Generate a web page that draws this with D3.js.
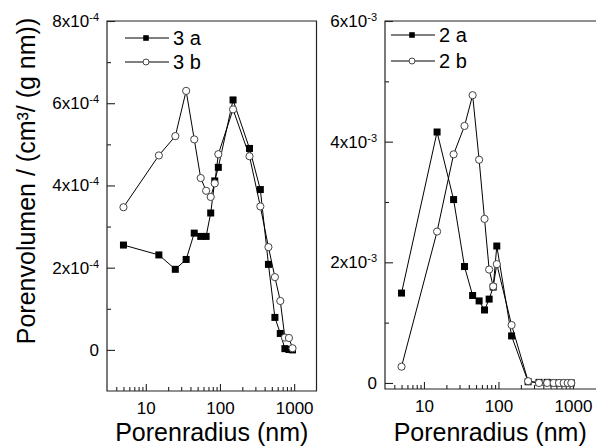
<!DOCTYPE html>
<html>
<head>
<meta charset="utf-8">
<script src="https://cdn.jsdelivr.net/npm/d3@7"></script>
<style>
  html, body { margin: 0; padding: 0; background: #fff; }
  svg { display: block; font-family: "Liberation Sans", Arial, sans-serif; }
</style>
</head>
<body>
<svg id="chart" width="596" height="446"></svg>
<script>
// Pore radius classes (nm), shared by all four series
const radius = [5, 15, 25, 35, 45, 55, 65, 75, 85, 95, 150, 250, 350, 450, 550, 650, 750, 850, 950];

// Sample 3: pore volume, cm³/(g nm)
const series3a = [2.55e-4, 2.31e-4, 1.96e-4, 2.20e-4, 2.84e-4, 2.76e-4, 2.76e-4, 3.33e-4, 4.11e-4, 4.44e-4,
                  6.08e-4, 4.90e-4, 3.90e-4, 2.08e-4, 0.79e-4, 0.40e-4, 0.03e-4, 0.01e-4, 0.00e-4];
const series3b = [3.47e-4, 4.73e-4, 5.20e-4, 6.30e-4, 5.12e-4, 4.18e-4, 3.87e-4, 3.72e-4, 4.05e-4, 4.76e-4,
                  5.85e-4, 4.71e-4, 3.49e-4, 2.50e-4, 1.77e-4, 1.19e-4, 0.30e-4, 0.29e-4, 0.04e-4];

// Sample 2: pore volume, cm³/(g nm)
const series2a = [1.49e-3, 4.16e-3, 3.04e-3, 1.93e-3, 1.45e-3, 1.36e-3, 1.21e-3, 1.39e-3, 1.59e-3, 2.27e-3,
                  0.78e-3, 0.02e-3, 0.01e-3, 0.01e-3, 0.00e-3, 0.00e-3, 0.00e-3, 0.00e-3, 0.00e-3];
const series2b = [0.27e-3, 2.51e-3, 3.79e-3, 4.26e-3, 4.77e-3, 3.70e-3, 2.72e-3, 1.88e-3, 1.60e-3, 1.97e-3,
                  0.96e-3, 0.03e-3, 0.00e-3, 0.00e-3, 0.00e-3, 0.00e-3, 0.00e-3, 0.00e-3, 0.00e-3];

// Axis ticks and labels
const xMajorTicks = [10, 100, 1000];
const xMinorTicks = [4, 5, 6, 7, 8, 9, 20, 30, 40, 50, 60, 70, 80, 90, 200, 300, 400, 500, 600, 700, 800, 900];
const yTicks3 = [0, 2e-4, 4e-4, 6e-4, 8e-4];
const yTickLabels3 = ["0", "2x10", "4x10", "6x10", "8x10"];
const yMinor3 = [1e-4, 3e-4, 5e-4, 7e-4];
const yTicks2 = [0, 2e-3, 4e-3, 6e-3];
const yTickLabels2 = ["0", "2x10", "4x10", "6x10"];
const yMinor2 = [1e-3, 3e-3, 5e-3];
const legend3 = ["3 a", "3 b"];
const legend2 = ["2 a", "2 b"];

const xTitle = "Porenradius (nm)";
const yTitle = "Porenvolumen / (cm³/ (g nm))";

const svg = d3.select("#chart");

function drawPanel(p) {
  const x = d3.scaleLog().domain([3, 2000]).range([p.left, p.right]);
  const y = d3.scaleLinear().domain(p.yDomain).range([p.bottom, p.top]);
  const g = svg.append("g");

  // frame
  const frame = p.closeRight
    ? `M${p.left},${p.top}H${p.right}V${p.bottom}H${p.left}Z`
    : `M596,${p.top}H${p.left}V${p.bottom}H596`;
  g.append("path").attr("d", frame).attr("fill", "none").attr("stroke", "#222").attr("stroke-width", 1.2);

  // x axis: major ticks with labels, minor ticks, all pointing inward
  const xa = g.append("g").attr("transform", `translate(0,${p.bottom})`)
    .call(d3.axisBottom(x).tickValues(xMajorTicks).tickFormat(d3.format("d"))
      .tickSizeInner(-7).tickSizeOuter(0).tickPadding(11));
  const xm = g.append("g").attr("transform", `translate(0,${p.bottom})`)
    .call(d3.axisBottom(x).tickValues(xMinorTicks).tickFormat("").tickSizeInner(-4).tickSizeOuter(0));

  // y axis
  const ya = g.append("g").attr("transform", `translate(${p.left},0)`)
    .call(d3.axisLeft(y).tickValues(p.yTicks).tickFormat((d, i) => p.yLabels[i])
      .tickSizeInner(-8).tickSizeOuter(0).tickPadding(8));
  const ym = g.append("g").attr("transform", `translate(${p.left},0)`)
    .call(d3.axisLeft(y).tickValues(p.yMinor).tickFormat("").tickSizeInner(-4).tickSizeOuter(0));

  [xa, xm, ya, ym].forEach(a => {
    a.select(".domain").remove();
    a.selectAll(".tick line").attr("stroke", "#222").attr("stroke-width", 1.1);
    a.selectAll("text").attr("fill", "#000").attr("font-size", 17)
      .attr("font-family", "'Liberation Sans', Arial, sans-serif");
  });
  // exponent superscripts on the y labels
  ya.selectAll(".tick text").each(function (d, i) {
    if (d !== 0) {
      d3.select(this).append("tspan").attr("dy", "-0.55em").attr("font-size", 11).text(p.exponent);
    }
  });

  // x title
  g.append("text").attr("x", (p.left + Math.min(p.right, 596)) / 2).attr("y", 441)
    .attr("text-anchor", "middle").attr("font-size", 25).text(xTitle);

  const line = d3.line().x(d => x(d[0])).y(d => y(d[1]));
  const seriesA = radius.map((r, i) => [r, p.a[i]]);
  const seriesB = radius.map((r, i) => [r, p.b[i]]);

  // series a: filled squares
  g.append("path").attr("d", line(seriesA)).attr("fill", "none").attr("stroke", "#000").attr("stroke-width", 1);
  g.selectAll("rect.sa").data(seriesA).enter().append("rect").attr("class", "sa")
    .attr("x", d => x(d[0]) - 3.5).attr("y", d => y(d[1]) - 3.5)
    .attr("width", 7).attr("height", 7).attr("fill", "#000");

  // series b: open circles
  g.append("path").attr("d", line(seriesB)).attr("fill", "none").attr("stroke", "#000").attr("stroke-width", 1);
  g.selectAll("circle.sb").data(seriesB).enter().append("circle").attr("class", "sb")
    .attr("cx", d => x(d[0])).attr("cy", d => y(d[1])).attr("r", 3.6)
    .attr("fill", "#fff").attr("stroke", "#444").attr("stroke-width", 1);

  // legend
  const lg = g.append("g");
  p.legend.forEach((lab, i) => {
    const ly = p.legY[i];
    lg.append("line").attr("x1", p.legX).attr("x2", p.legX + 44).attr("y1", ly).attr("y2", ly)
      .attr("stroke", "#000").attr("stroke-width", 1);
    const mx = p.legX + 21;
    if (i === 0) {
      lg.append("rect").attr("x", mx - 2.8).attr("y", ly - 2.8).attr("width", 5.6).attr("height", 5.6).attr("fill", "#000");
    } else {
      lg.append("circle").attr("cx", mx).attr("cy", ly).attr("r", 3).attr("fill", "#fff")
        .attr("stroke", "#444").attr("stroke-width", 1);
    }
    lg.append("text").attr("x", p.legX + 48).attr("y", ly + 7).attr("font-size", 20).text(lab);
  });
}

drawPanel({
  left: 107, right: 316.5, top: 21, bottom: 391, closeRight: true,
  yDomain: [-1e-4, 8e-4], yTicks: yTicks3, yLabels: yTickLabels3, yMinor: yMinor3, exponent: "-4",
  a: series3a, b: series3b, legend: legend3, legX: 125, legY: [38, 62]
});
drawPanel({
  left: 385, right: 595.4, top: 21, bottom: 389, closeRight: false,
  yDomain: [-1e-4, 6e-3], yTicks: yTicks2, yLabels: yTickLabels2, yMinor: yMinor2, exponent: "-3",
  a: series2a, b: series2b, legend: legend2, legX: 391, legY: [35, 61]
});

// shared y title
svg.append("text").attr("transform", "translate(35,181) rotate(-90)")
  .attr("text-anchor", "middle").attr("font-size", 25).text(yTitle);
</script>
</body>
</html>
